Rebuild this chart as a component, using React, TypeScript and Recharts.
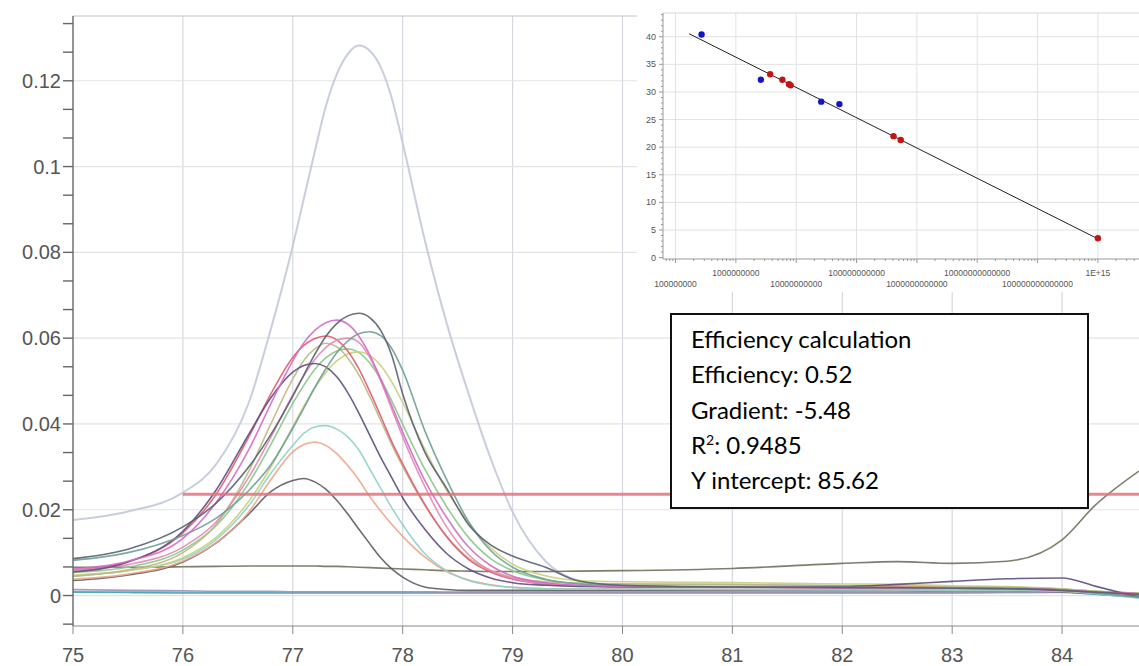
import React from 'react';
import {
  LineChart,
  Line,
  XAxis,
  YAxis,
  ReferenceLine,
  ScatterChart,
  Scatter,
} from 'recharts';

// melt curve temperatures (shared x grid)
const temps = [
  75, 75.5, 76, 76.3, 76.6, 76.8, 77, 77.1, 77.2, 77.3, 77.4, 77.5, 77.6, 77.7, 77.8, 77.9, 78,
  78.2, 78.4, 78.6, 78.8, 79, 79.3, 79.6, 80, 81, 82, 82.5, 83, 83.5, 84, 84.3, 84.7,
];

// -dF/dT per well
const bigPeak = [0.0176, 0.0196, 0.024, 0.0305, 0.045, 0.0621, 0.0815, 0.0925, 0.1035, 0.114, 0.1215, 0.1262, 0.1282, 0.127, 0.1232, 0.116, 0.1055, 0.083, 0.0635, 0.047, 0.032, 0.0195, 0.008, 0.0035, 0.0022, 0.0018, 0.0016, 0.0016, 0.0015, 0.0014, 0.0012, 0.0009, 0.0004];
const slate = [0.0086, 0.0108, 0.016, 0.0215, 0.03, 0.0375, 0.0465, 0.0514, 0.0562, 0.0604, 0.0634, 0.0652, 0.0658, 0.0648, 0.0618, 0.056, 0.047, 0.0335, 0.025, 0.0165, 0.0118, 0.0092, 0.0066, 0.0034, 0.0024, 0.002, 0.0018, 0.0018, 0.0017, 0.0016, 0.0012, 0.0008, 0.0003];
const magenta = [0.0062, 0.008, 0.0133, 0.0216, 0.034, 0.0447, 0.0547, 0.0589, 0.0618, 0.0636, 0.0642, 0.0633, 0.0605, 0.0561, 0.0505, 0.0443, 0.0381, 0.0269, 0.0182, 0.0113, 0.007, 0.0045, 0.003, 0.0024, 0.0021, 0.002, 0.0018, 0.0018, 0.0017, 0.0016, 0.0012, 0.0008, 0.0004];
const tealGreen = [0.0082, 0.01, 0.014, 0.018, 0.0245, 0.0305, 0.039, 0.0437, 0.0485, 0.0528, 0.0566, 0.0593, 0.061, 0.0615, 0.0606, 0.0576, 0.0525, 0.0385, 0.027, 0.0172, 0.0105, 0.0066, 0.0038, 0.0027, 0.0023, 0.002, 0.0019, 0.0018, 0.0017, 0.0016, 0.0013, 0.0006, -0.0004];
const pink = [0.0059, 0.0072, 0.0113, 0.0171, 0.0276, 0.0369, 0.0468, 0.0512, 0.055, 0.0578, 0.0595, 0.06, 0.059, 0.0555, 0.05, 0.0435, 0.037, 0.0255, 0.016, 0.0095, 0.0058, 0.004, 0.0028, 0.0023, 0.0021, 0.002, 0.0018, 0.0018, 0.0017, 0.0016, 0.0012, 0.0008, 0.0004];
const olive = [0.0045, 0.006, 0.01, 0.0165, 0.029, 0.04, 0.0505, 0.0548, 0.0575, 0.0588, 0.058, 0.0554, 0.0515, 0.0464, 0.0408, 0.0352, 0.0301, 0.0211, 0.0138, 0.0087, 0.0059, 0.0042, 0.0032, 0.0028, 0.0027, 0.0026, 0.0023, 0.0022, 0.002, 0.0019, 0.0015, 0.001, 0.0005];
const yellowGreen = [0.0048, 0.0058, 0.0088, 0.0135, 0.022, 0.0299, 0.0394, 0.0441, 0.0484, 0.052, 0.0547, 0.0563, 0.0568, 0.056, 0.0536, 0.0498, 0.045, 0.0342, 0.0245, 0.017, 0.0111, 0.0073, 0.0046, 0.0035, 0.0032, 0.003, 0.0027, 0.0026, 0.0023, 0.0021, 0.0016, 0.001, 0.0005];
const purple = [0.0055, 0.0078, 0.015, 0.0245, 0.0376, 0.0461, 0.0521, 0.0536, 0.0541, 0.0533, 0.051, 0.0473, 0.0426, 0.0374, 0.0322, 0.0275, 0.0228, 0.0155, 0.0098, 0.0062, 0.0041, 0.003, 0.0024, 0.0021, 0.002, 0.002, 0.0021, 0.0026, 0.0033, 0.0039, 0.0041, 0.0022, -0.0004];
const lightTeal = [0.0045, 0.0058, 0.0085, 0.013, 0.021, 0.0285, 0.035, 0.0378, 0.0393, 0.0396, 0.0388, 0.037, 0.034, 0.0295, 0.025, 0.0205, 0.0165, 0.0098, 0.0058, 0.0035, 0.0024, 0.0019, 0.0016, 0.0015, 0.0015, 0.0014, 0.0013, 0.0013, 0.0012, 0.0012, 0.001, 0.0004, -0.0006];
const salmon = [0.0038, 0.005, 0.008, 0.0122, 0.0195, 0.027, 0.0335, 0.0352, 0.0358, 0.035, 0.0331, 0.0303, 0.027, 0.0231, 0.0197, 0.0166, 0.0138, 0.009, 0.0056, 0.0036, 0.0025, 0.0019, 0.0016, 0.0015, 0.0015, 0.0014, 0.0014, 0.0013, 0.0013, 0.0012, 0.001, 0.0006, 0.0002];
const darkGray = [0.0035, 0.0048, 0.0078, 0.0122, 0.019, 0.0242, 0.0268, 0.0273, 0.0265, 0.0248, 0.0222, 0.019, 0.0155, 0.0121, 0.0088, 0.0062, 0.0043, 0.002, 0.0014, 0.0012, 0.0012, 0.0012, 0.0012, 0.0012, 0.0012, 0.0012, 0.0012, 0.0012, 0.0011, 0.0011, 0.0009, 0.0005, 0];
const red = [0.0059, 0.0079, 0.0146, 0.0235, 0.037, 0.047, 0.0555, 0.0583, 0.0599, 0.0605, 0.0596, 0.057, 0.0529, 0.0476, 0.0418, 0.0359, 0.0307, 0.0213, 0.0137, 0.0084, 0.0055, 0.0038, 0.0027, 0.0023, 0.0021, 0.002, 0.0019, 0.0019, 0.0018, 0.0017, 0.0013, 0.0008, 0.0004];
const green = [0.0054, 0.0066, 0.0106, 0.0162, 0.0262, 0.0352, 0.0448, 0.049, 0.0527, 0.0554, 0.057, 0.0575, 0.0567, 0.0542, 0.0504, 0.0454, 0.0399, 0.0295, 0.0207, 0.0135, 0.0086, 0.0058, 0.0037, 0.0029, 0.0027, 0.0025, 0.0023, 0.0022, 0.002, 0.0019, 0.0015, 0.001, 0.0005];
const flatOlive = [0.0066, 0.0066, 0.0067, 0.0068, 0.0069, 0.0069, 0.0069, 0.0069, 0.0069, 0.0068, 0.0068, 0.0067, 0.0066, 0.0065, 0.0064, 0.0063, 0.0062, 0.006, 0.0058, 0.0057, 0.0056, 0.0056, 0.0056, 0.0057, 0.0058, 0.0063, 0.0075, 0.0079, 0.0075, 0.008, 0.013, 0.021, 0.029];
const flatLavender = [0.0014, 0.0012, 0.0011, 0.001, 0.001, 0.001, 0.0009, 0.0009, 0.0009, 0.0009, 0.0009, 0.0009, 0.0009, 0.0009, 0.0009, 0.0009, 0.0009, 0.0009, 0.0008, 0.0008, 0.0008, 0.0008, 0.0008, 0.0008, 0.0008, 0.0008, 0.0008, 0.0008, 0.0008, 0.0008, 0.0008, 0.0005, -0.0002];
const flatBlue = [0.001, 0.0009, 0.0008, 0.0007, 0.0007, 0.0007, 0.0007, 0.0007, 0.0007, 0.0007, 0.0007, 0.0007, 0.0007, 0.0007, 0.0007, 0.0007, 0.0007, 0.0007, 0.0007, 0.0007, 0.0007, 0.0007, 0.0007, 0.0007, 0.0007, 0.0007, 0.0007, 0.0007, 0.0007, 0.0007, 0.0007, 0.0003, -0.0005];
const flatTeal = [0.0008, 0.0007, 0.0006, 0.0006, 0.0006, 0.0006, 0.0006, 0.0006, 0.0006, 0.0006, 0.0006, 0.0006, 0.0006, 0.0006, 0.0006, 0.0006, 0.0006, 0.0006, 0.0006, 0.0006, 0.0006, 0.0006, 0.0006, 0.0006, 0.0006, 0.0006, 0.0006, 0.0006, 0.0006, 0.0007, 0.0008, 0.0003, -0.0004];

const threshold = 0.0236;
const xTicks = [75, 76, 77, 78, 79, 80, 81, 82, 83, 84];
const yMajor = [0, 0.02, 0.04, 0.06, 0.08, 0.1, 0.12];
const X_MIN = 75;
const X_MAX = 84.7;
const Y_MIN = -0.0071;
const Y_MAX = 0.1351;

// inset standard curve
const bluePoints = [
  { x: 2.7e8, y: 40.4 },
  { x: 2.6e9, y: 32.2 },
  { x: 2.6e10, y: 28.25 },
  { x: 5.2e10, y: 27.8 },
];
const redPoints = [
  { x: 3.7e9, y: 33.2 },
  { x: 5.9e9, y: 32.2 },
  { x: 7.6e9, y: 31.4 },
  { x: 8.1e9, y: 31.2 },
  { x: 4.1e11, y: 22.0 },
  { x: 5.4e11, y: 21.3 },
  { x: 1e15, y: 3.5 },
];
const fitLine = [
  { x: 1.68e8, y: 40.55 },
  { x: 1e15, y: 3.4 },
];
const insetDecades = [1e8, 1e9, 1e10, 1e11, 1e12, 1e13, 1e14, 1e15];
const insetXLabels = [
  '100000000',
  '1000000000',
  '10000000000',
  '100000000000',
  '1000000000000',
  '10000000000000',
  '100000000000000',
  '1E+15',
];
const insetYMajor = [0, 5, 10, 15, 20, 25, 30, 35, 40];
const INSET_X_MIN = 6.2e7;
const INSET_X_MAX = 4.8e15;
const INSET_Y_MIN = -0.25;
const INSET_Y_MAX = 44.3;

const boxLines = ['Efficiency calculation', 'Efficiency: 0.52', 'Gradient: -5.48'];
const rSquared = '0.9485';
const yIntercept = 'Y intercept: 85.62';

const series = [
  { key: 'flatBlue', color: '#a9bbe0', values: flatBlue },
  { key: 'flatTeal', color: '#3fa3b8', values: flatTeal },
  { key: 'flatLavender', color: '#9a90bf', values: flatLavender },
  { key: 'bigPeak', color: '#c3c9db', values: bigPeak },
  { key: 'flatOlive', color: '#6f7259', values: flatOlive },
  { key: 'darkGray', color: '#5a5c60', values: darkGray },
  { key: 'salmon', color: '#eea487', values: salmon },
  { key: 'lightTeal', color: '#8fd2c8', values: lightTeal },
  { key: 'green', color: '#86c886', values: green },
  { key: 'yellowGreen', color: '#c6d07c', values: yellowGreen },
  { key: 'olive', color: '#bdb884', values: olive },
  { key: 'red', color: '#e35a70', values: red },
  { key: 'pink', color: '#e487b8', values: pink },
  { key: 'purple', color: '#5e4d80', values: purple },
  { key: 'tealGreen', color: '#6f9f94', values: tealGreen },
  { key: 'magenta', color: '#d36ac6', values: magenta },
  { key: 'slate', color: '#56606f', values: slate },
];

const rows = temps.map((t, i) => {
  const row: Record<string, number> = { t };
  series.forEach((s) => {
    row[s.key] = s.values[i];
  });
  return row;
});

const third = 0.02 / 3;
const yTicks = [-third, ...yMajor.flatMap((v) => [v, v + third, v + 2 * third])];

const insetXTicks: number[] = [];
[1e7, ...insetDecades].forEach((d) => {
  for (let m = 1; m < 10; m++) {
    const v = d * m;
    if (v >= INSET_X_MIN && v <= INSET_X_MAX) insetXTicks.push(v);
  }
});
const insetYTicks: number[] = [];
for (let v = 0; v <= 44; v++) insetYTicks.push(v);

const mainFont = '"Liberation Sans", Arial, sans-serif';

const formatY = (v: number) =>
  yMajor.some((m) => Math.abs(m - v) < 1e-9) ? String(v) : '';

const InsetXTick = ({ x, y, payload }: any) => {
  const lg = Math.log10(payload.value);
  const dec = Math.round(lg);
  const major = Math.abs(lg - dec) < 1e-6;
  if (!major) {
    return <line x1={x} x2={x} y1={y} y2={y + 2} stroke="#999" />;
  }
  const idx = insetDecades.findIndex((d) => Math.round(Math.log10(d)) === dec);
  const lower = dec % 2 === 0;
  return (
    <g>
      <line x1={x} x2={x} y1={y} y2={y + 4} stroke="#999" />
      <text
        x={x}
        y={y + (lower ? 25 : 14)}
        textAnchor="middle"
        dominantBaseline="central"
        fontSize={8.5}
        fill="#555"
        fontFamily={mainFont}
      >
        {idx >= 0 ? insetXLabels[idx] : ''}
      </text>
    </g>
  );
};

const InsetYTick = ({ x, y, payload }: any) => {
  const v = payload.value;
  const major = insetYMajor.includes(v);
  return (
    <g>
      <line x1={x - (major ? 4 : 2)} x2={x} y1={y} y2={y} stroke="#999" />
      {major && (
        <text
          x={x - 7}
          y={y}
          textAnchor="end"
          dominantBaseline="central"
          fontSize={9}
          fill="#555"
          fontFamily={mainFont}
        >
          {v}
        </text>
      )}
    </g>
  );
};

const Dot = (color: string) => (p: any) => (
  <circle cx={p.cx} cy={p.cy} r={3.2} fill={color} />
);

export default function App() {
  return (
    <div
      style={{
        position: 'absolute',
        left: 0,
        top: 0,
        width: 1139,
        height: 666,
        overflow: 'hidden',
        background: '#fff',
      }}
    >
      {/* melt curves */}
      <LineChart
        width={1139}
        height={666}
        data={rows}
        margin={{ top: 16, right: 0, bottom: 0, left: 0 }}
      >
        {xTicks.slice(1).map((v) => (
          <ReferenceLine key={`vx-${v}`} x={v} stroke="#d5d8df" strokeWidth={1.2} />
        ))}
        {yMajor.map((v) => (
          <ReferenceLine key={`hy-${v}`} y={v} stroke="#e3e3e3" strokeWidth={1.2} />
        ))}
        <ReferenceLine y={Y_MAX} stroke="#c4c4c4" />
        <XAxis
          dataKey="t"
          type="number"
          domain={[X_MIN, X_MAX]}
          ticks={xTicks}
          allowDataOverflow
          height={40}
          tickSize={8}
          tickMargin={14}
          stroke="#888"
          tick={{ fill: '#555', fontSize: 20, fontFamily: mainFont }}
        />
        <YAxis
          type="number"
          domain={[Y_MIN, Y_MAX]}
          ticks={yTicks}
          allowDataOverflow
          width={73}
          tickSize={10}
          tickMargin={2}
          stroke="#666"
          strokeWidth={1.4}
          tickFormatter={formatY}
          tick={{ fill: '#555', fontSize: 20, fontFamily: mainFont }}
        />
        {series.map((s) => (
          <Line
            key={s.key}
            dataKey={s.key}
            type="monotone"
            stroke={s.color}
            strokeWidth={s.key === 'bigPeak' ? 2 : 1.6}
            strokeOpacity={0.9}
            dot={false}
            isAnimationActive={false}
          />
        ))}
        <ReferenceLine
          segment={[
            { x: 76, y: threshold },
            { x: X_MAX, y: threshold },
          ]}
          stroke="#e8707c"
          strokeWidth={3}
          strokeOpacity={0.85}
        />
      </LineChart>

      {/* standard curve inset */}
      <div
        style={{
          position: 'absolute',
          left: 637,
          top: 0,
          width: 502,
          height: 292,
          background: '#fff',
        }}
      >
        <ScatterChart
          width={502}
          height={292}
          margin={{ top: 13, right: 0, bottom: 0, left: 0 }}
        >
          {insetDecades.map((v) => (
            <ReferenceLine key={`ix-${v}`} x={v} stroke="#e2e2e2" />
          ))}
          {insetYMajor.slice(1).map((v) => (
            <ReferenceLine key={`iy-${v}`} y={v} stroke="#e2e2e2" />
          ))}
          <ReferenceLine y={INSET_Y_MAX} stroke="#d6d6d6" />
          <XAxis
            dataKey="x"
            type="number"
            scale="log"
            domain={[INSET_X_MIN, INSET_X_MAX]}
            ticks={insetXTicks}
            allowDataOverflow
            height={33}
            tickSize={0}
            tickMargin={0}
            tickLine={false}
            stroke="#999"
            tick={<InsetXTick />}
            interval={0}
          />
          <YAxis
            dataKey="y"
            type="number"
            domain={[INSET_Y_MIN, INSET_Y_MAX]}
            ticks={insetYTicks}
            allowDataOverflow
            width={26}
            tickSize={0}
            tickMargin={0}
            tickLine={false}
            stroke="#999"
            tick={<InsetYTick />}
            interval={0}
          />
          <Scatter
            data={fitLine}
            line={{ stroke: '#222', strokeWidth: 1 }}
            shape={() => <g />}
            isAnimationActive={false}
          />
          <Scatter data={bluePoints} shape={Dot('#1414c8')} isAnimationActive={false} />
          <Scatter data={redPoints} shape={Dot('#c41414')} isAnimationActive={false} />
        </ScatterChart>
      </div>

      {/* efficiency box */}
      <div
        style={{
          position: 'absolute',
          left: 670,
          top: 313,
          width: 419,
          height: 196,
          boxSizing: 'border-box',
          border: '2px solid #111',
          background: '#fff',
          padding: '6px 0 0 19px',
          fontFamily: 'Lato, "Open Sans", sans-serif',
          fontSize: 24,
          lineHeight: '35.25px',
          color: '#000',
        }}
      >
        {boxLines.map((l) => (
          <div key={l}>{l}</div>
        ))}
        <div>
          R<sup style={{ fontSize: 14, lineHeight: 0 }}>2</sup>: {rSquared}
        </div>
        <div>{yIntercept}</div>
      </div>
    </div>
  );
}
